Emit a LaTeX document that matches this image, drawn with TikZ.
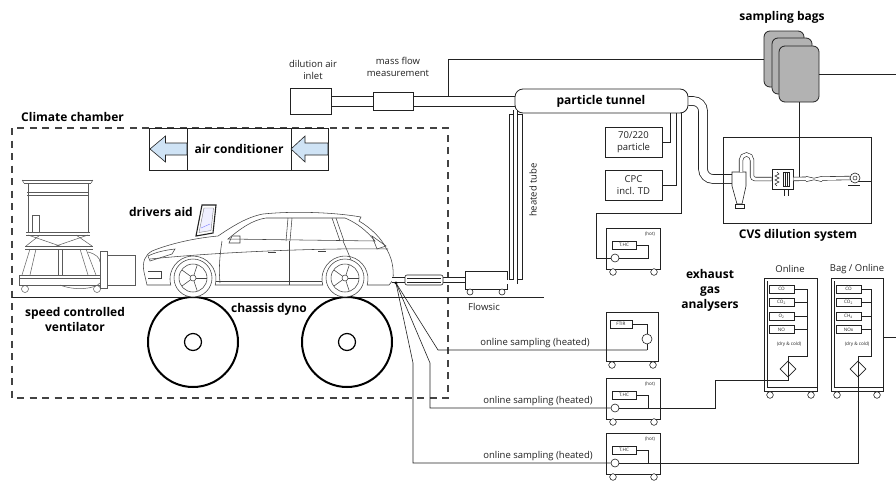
\documentclass[tikz,border=0pt]{standalone}
\usepackage{fontspec}
\setmainfont{Open Sans}
\usetikzlibrary{shapes.geometric,calc}

\definecolor{ink}{HTML}{222222}
\definecolor{sketch}{HTML}{5A5A5A}
\definecolor{airblue}{HTML}{CFE3F5}
\definecolor{baggray}{HTML}{B2B2B2}

\tikzset{
  head/.style={font=\fontsize{12}{15}\selectfont\bfseries, text=black, inner sep=0, align=center},
  note/.style={font=\fontsize{9.5}{11.5}\selectfont, text=ink, inner sep=0, align=center},
  micro/.style={font=\fontsize{4.6}{5}\selectfont, text=ink, inner sep=0},
  unit/.style={draw=ink, line width=0.8pt, rectangle, inner sep=0},
  gasbox/.style={draw=ink, line width=0.5pt, rectangle, inner sep=0, minimum width=25, minimum height=8, micro},
  wire/.style={draw=ink, line width=0.6pt},
  pipe/.style={draw=ink, line width=0.8pt},
  tube/.style={draw=ink, line width=0.8pt, double=white, double distance=#1},
  tube/.default=4pt,
  chamber/.style={draw=ink!85, line width=1.2pt, dash pattern=on 7pt off 5.5pt},
  roller/.style={circle, draw=black, line width=2pt, inner sep=0, minimum size=90},
  hub/.style={circle, draw=black, fill=white, line width=1.2pt, inner sep=0, minimum size=17},
  drawing/.style={draw=sketch, line width=0.5pt},
  carline/.style={draw=ink!85, line width=0.55pt},
  caster/.style={draw=ink, line width=0.6pt, fill=white},
  pumpsym/.style={circle, draw=ink, line width=0.6pt, inner sep=0, fill=white},
  filtersym/.style={diamond, draw=ink, line width=0.7pt, inner sep=0, minimum size=16, fill=white},
  % cabinet with a heated total hydrocarbon analyser
  thccab/.pic={
    \node[unit, minimum width=54, minimum height=41, anchor=north west] (-cab) at (0,0) {};
    \draw[caster] (7,44) circle[radius=3.3];
    \draw[caster] (48,44) circle[radius=3.3];
    \node[micro] at (44,6) {(hot)};
    \node[gasbox, minimum width=24] (-box) at (18,17) {T.HC};
    \node[pumpsym, minimum size=8] (-pump) at (9,30) {};
    \draw[wire] (-box.east) -| (42,30) -- (-pump.east);
  },
  % cabinet with the FTIR spectrometer
  ftircab/.pic={
    \node[unit, minimum width=52, minimum height=49, anchor=north west] (-cab) at (0,0) {};
    \draw[caster] (6,53) circle[radius=3.3];
    \draw[caster] (47,53) circle[radius=3.3];
    \node[gasbox, minimum width=22] (-box) at (15,12) {FTIR};
    \node[pumpsym, minimum size=10] (-pump) at (41,27) {};
    \coordinate (-in) at (41,38);
    \draw[wire] (-box.east) -| (-pump.north);
    \draw[wire] (-pump.south) -- (-in);
  }
}

\begin{document}
\begin{tikzpicture}[x=1pt, y=-1pt]
\useasboundingbox[fill=white] (0,0) rectangle (896,482);

% ---------------- climate chamber ----------------
\draw[chamber] (12,128) rectangle (448,398);
\node[head, anchor=west] (chamberlbl) at (21,117) {Climate chamber};

% air conditioner with in/out arrows
\node[unit, minimum width=179, minimum height=42, line width=0.7pt] (ac) at (238.5,149) {};
\draw[wire] (187,128) -- (187,170);
\draw[wire] (291,128) -- (291,170);
\node[head] at (239,149) {air conditioner};
\draw[wire, fill=airblue] (150,149) -- (165.5,136) -- (165.5,143) -- (187,143) -- (187,155) -- (165.5,155) -- (165.5,162) -- cycle;
\draw[wire, fill=airblue] (291,149) -- (305,136) -- (305,143) -- (328,143) -- (328,155) -- (305,155) -- (305,162) -- cycle;

% floor
\draw[draw=ink, line width=0.9pt] (12,297) -- (544,297);

% ---------------- ventilator ----------------
\begin{scope}[drawing]
  \draw (22,180) -- (93,180); \draw (24,183) -- (91,183);
  \draw (22,180) -- (24,183); \draw (93,180) -- (91,183);
  \draw (28,183) -- (28,233); \draw (88,183) -- (88,233);
  \draw (27,192) -- (89,192); \draw (27,195) -- (89,195);
  \draw (32,215) rectangle (39,232);
  \draw (26,232) -- (90,232); \draw (26,235) -- (90,235);
  \draw (28,235) -- (60,246); \draw (88,235) -- (56,246);
  \draw (40,235) -- (26,246); \draw (76,235) -- (92,246);
  \draw (25,246) -- (93,246); \draw (25,249) -- (93,249);
  \draw (30,249) -- (22,275); \draw (36,249) -- (30,275);
  \draw (86,249) -- (96,275); \draw (80,249) -- (88,275);
  \draw (58,249) -- (58,275); \draw (62,249) -- (62,275);
  \draw (19,275) rectangle (106,285); \draw (19,278) -- (106,278);
  \draw (88,252) .. controls (96,254) and (100,258) .. (100,262);
  \draw (60,285) .. controls (75,291) and (95,289) .. (100,283);
  \draw[fill=white] (100,251) rectangle (107,288);
  \draw[fill=white] (107,255) rectangle (135,285);
  \draw (25,289) circle[radius=3.5]; \draw (97,289) circle[radius=3.5];
\end{scope}
\node[head] (ventlbl) at (75,319) {speed controlled\\ventilator};

% ---------------- chassis dyno ----------------
\node[roller] (rollF) at (193,342) {};
\node[hub] (hubF) at (rollF.center) {};
\node[roller] (rollR) at (347,342) {};
\node[hub] (hubR) at (rollR.center) {};
\node[head] (dynolbl) at (269,309) {chassis dyno};

% ---------------- vehicle ----------------
\draw[carline, fill=white] (147,285) -- (144,272) .. controls (142,262) and (145,255) .. (152,251)
  .. controls (172,243) and (196,238) .. (218,236) .. controls (233,226) and (247,217) .. (263,214)
  .. controls (292,211) and (332,212) .. (361,217) -- (359,221)
  .. controls (371,228) and (381,238) .. (386,248) .. controls (392,258) and (394,268) .. (393,280)
  -- (389,285) -- (367.2,285) arc[start angle=15, end angle=-195, radius=23]
  -- (215.2,285) arc[start angle=15, end angle=-195, radius=23] -- cycle;
\draw[carline] (228,239) .. controls (240,229) and (252,220) .. (266,218) -- (345,218)
  .. controls (357,223) and (367,231) .. (375,241) -- cycle;
\draw[carline] (288,218) -- (286,241); \draw[carline] (292,218) -- (290,241);
\draw[carline] (332,218) -- (340,241); \draw[carline] (336,218) -- (344,241);
\draw[carline] (222,241) .. controls (219,260) and (219,272) .. (220,283);
\draw[carline] (289,241) -- (289,285);
\draw[carline] (343,241) .. controls (348,252) and (350,258) .. (352,262);
\draw[carline] (150,259) .. controls (230,251) and (330,248) .. (388,249);
\draw[carline] (216,281) -- (322,281);
\draw[carline] (229,243) -- (232,236) -- (240,236) -- (240,243) -- cycle;
\draw[carline] (268,252) -- (276,252); \draw[carline] (318,251) -- (326,251);
\draw[carline] (148,256) .. controls (156,252) and (166,250) .. (175,249) -- (172,254) -- (150,261) -- cycle;
\draw[carline] (372,236) -- (386,246) -- (377,249) -- cycle;
\draw[carline] (148,271) -- (161,271) -- (161,278) -- (148,278);
\foreach \cx in {193,345} {
  \draw[carline, fill=white] (\cx,278) circle[radius=19];
  \draw[carline] (\cx,278) circle[radius=14];
  \draw[carline] (\cx,278) circle[radius=3];
  \foreach \a in {0,72,...,288}
    \draw[carline] ($(\cx,278)+(\a:3)$) -- ($(\cx,278)+(\a:13.5)$);
}

% drivers aid monitor
\draw[draw=ink, line width=1.1pt, fill=white] (202,205) -- (216,205) -- (213,233) -- (196,236) -- cycle;
\draw[draw=ink!60, line width=0.4pt, fill=blue!6] (204,208) -- (213.5,208) -- (211,230.5) -- (199,232.5) -- cycle;
\draw[draw=blue!50, line width=0.4pt] (201,228) -- (210,224);
\node[head, anchor=east] (aidlbl) at (193,212) {drivers aid};

% ---------------- exhaust line and Flowsic ----------------
\node[unit, minimum width=42, minimum height=18, fill=white] (flowsic) at (486,280) {};
\draw[caster] (470,292) circle[radius=3];
\draw[caster] (502,292) circle[radius=3];
\node[note] (flowsiclbl) at (484,307) {Flowsic};
\draw[tube=4pt, line width=0.6pt] (392,280) -- (flowsic.west);
\node[unit, rounded corners=2, minimum width=38, minimum height=10, fill=white, line width=0.6pt] (muffler) at (424,280) {};
\draw[wire, line width=0.4pt] (407,278) -- (441,278);
\draw[wire, line width=0.4pt] (407,282) -- (441,282);
\coordinate (tap) at (396,283);
\fill[black] (tap) circle[radius=1.7];

% ---------------- dilution air and particle tunnel ----------------
\node[unit, minimum width=41, minimum height=26] (inlet) at (310.5,101) {};
\node[note] (inletlbl) at (313,70) {dilution air\\inlet};
\node[unit, minimum width=40, minimum height=18] (mfm) at (393,101) {};
\node[note] (mfmlbl) at (398,67) {mass flow\\measurement};
\node[unit, rounded corners=8, minimum width=173, minimum height=24] (tunnel) at (601.5,101) {};
\node[head] at (601,101) {particle tunnel};
\draw[pipe] ($(inlet.east)+(0,-5)$) -- ($(mfm.west)+(0,-5)$);
\draw[pipe] ($(inlet.east)+(0,5)$) -- ($(mfm.west)+(0,5)$);
\draw[pipe] ($(mfm.east)+(0,-5)$) -- ($(tunnel.west)+(0,-5)$);
\draw[pipe] ($(mfm.east)+(0,5)$) -- ($(tunnel.west)+(0,5)$);

% heated transfer tube from the Flowsic up to the tunnel
\draw[wire, line width=0.5pt] (509,114) rectangle (522,279);
\draw[tube=3.2pt, line width=0.6pt] (515.5,110) -- (515.5,282) -- (flowsic.east |- 0,282);
\node[note, rotate=90] (tubelbl) at (533,190) {heated tube};

% ---------------- sampling bags ----------------
\node[draw=ink, line width=0.8pt, fill=baggray, rounded corners=6, minimum width=40, minimum height=56] (bag1) at (784,59) {};
\node[draw=ink, line width=0.8pt, fill=baggray, rounded corners=6, minimum width=40, minimum height=56] (bag2) at (792,66) {};
\node[draw=ink, line width=0.8pt, fill=baggray, rounded corners=6, minimum width=40, minimum height=56] (bag3) at (799,74) {};
\node[head] (bagslbl) at (782,17) {sampling bags};
\coordinate (j1) at (448,96);
\draw[wire] (j1) |- (bag1.west);
\coordinate (outB) at (896,74);
\draw[wire] (bag3.east) -- (outB);

% ---------------- CVS dilution system ----------------
\node[minimum width=147, minimum height=85, inner sep=0] (cvs) at (797.5,180.5) {};
\draw[tube=8pt, rounded corners=10] (tunnel.east) -- (703,101) -- (703,179) -- (733,179);
\draw[wire, fill=white] (732,172) -- (746,172) -- (746,186) -- (742,204) -- (737,204) -- (732,186) -- cycle;
\draw[wire, fill=white] (735,204) rectangle (744,208);
\node[unit, minimum width=21, minimum height=20, fill=white, line width=0.6pt] (hx) at (782.5,179) {};
\draw[tube=3pt, line width=0.6pt] (741,172) -- (741,160) arc[start angle=180, end angle=360, radius=5.5]
  -- (752,176) arc[start angle=180, end angle=90, radius=3] -- (hx.west);
\draw[wire, line width=0.5pt] (777,172) -- (779,174) -- (775,176) -- (779,178) -- (775,180) -- (779,182) -- (775,184) -- (777,186);
\draw[wire, line width=0.5pt] (783,172) rectangle (789,186);
\draw[wire, line width=0.4pt] (785,172) -- (785,186); \draw[wire, line width=0.4pt] (787,172) -- (787,186);
\draw[wire, line width=0.5pt] (784,189) -- (784,196); \draw[wire, line width=0.5pt] (788,189) -- (788,196);
\node[pumpsym, minimum size=10] (blower) at (855,178) {};
\draw[tube=3pt, line width=0.6pt] (hx.east) -- (blower.west);
\fill[white] (806,175) rectangle (822,183);
\draw[wire, line width=0.5pt] (806,176.3) -- (814,178.2) -- (822,176.3);
\draw[wire, line width=0.5pt] (806,181.7) -- (814,179.8) -- (822,181.7);
\draw[wire, line width=0.5pt] (855,178) circle[radius=2];
\draw[wire] (848,185) -- (860,185);
\draw[tube=3pt, line width=0.6pt] (859,183) -- (cvs.east |- 0,183);
\coordinate (cvsjoin) at (799,177);
\draw[wire] (bag3.south) -- (cvsjoin);
\draw[draw=ink, line width=0.9pt] (cvs.south west) rectangle (cvs.north east);
\node[head] (cvslbl) at (798,235) {CVS dilution system};

% ---------------- particle instruments ----------------
\node[unit, line width=0.6pt, minimum width=57, minimum height=30, note] (p70) at (633.5,142) {70/220\\particle};
\node[unit, line width=0.6pt, minimum width=57, minimum height=30, note] (cpc) at (633.5,185) {CPC\\incl. TD};
\draw[wire] (670,113) |- (p70.east);
\draw[wire] (676,113) |- (cpc.east);

% ---------------- gas sampling cabinets ----------------
\pic (thcA) at (606,228) {thccab};
\pic (ftir) at (606,312) {ftircab};
\pic (thcB) at (606,378) {thccab};
\pic (thcC) at (606,433) {thccab};
\draw[wire] (681,113) -- (681,213) -- (596,213) |- (thcA-pump.west);

\draw[wire] (tap) -- (438,350) -- (ftir-in);
\draw[wire] (tap) -- (430,363) |- (thcB-pump.west);
\draw[wire] (tap) -- (413,363) |- (thcC-pump.west);
\node[note] (s1) at (535,343) {online sampling (heated)};
\node[note] (s2) at (538,401) {online sampling (heated)};
\node[note] (s3) at (538,456) {online sampling (heated)};

% ---------------- exhaust gas analysers ----------------
\node[head] (analbl) at (710,290) {exhaust\\gas\\analysers};

% online bench
\node[unit, minimum width=53, minimum height=113, anchor=north west] (onl) at (764,278) {};
\draw[wire, line width=0.4pt] (767,281) -- (767,387) -- (817,387);
\draw[caster] (770,395) circle[radius=3.3];
\draw[caster] (811,395) circle[radius=3.3];
\node[note] (onllbl) at (790,269) {Online};
\node[gasbox] (onl-g1) at (781.5,289) {CO};
\node[gasbox] (onl-g2) at (781.5,302.5) {CO\textsubscript{2}};
\node[gasbox] (onl-g3) at (781.5,316) {O\textsubscript{2}};
\node[gasbox] (onl-g4) at (781.5,329.5) {NO};
\node[micro] at (789,344) {(dry \& cold)};
\node[filtersym] (onl-filter) at (788,369) {};
\draw[wire, line width=0.5pt] (onl-filter.north) -- (onl-filter.south);
\coordinate (onl-bus) at (807,289);
\draw[wire] (onl-g1.east) -- (onl-bus) -- (807,356) -| (onl-filter.north);
\foreach \g in {2,3,4} \draw[wire] (onl-g\g.east) -- (onl-g\g.east -| onl-bus);

% bag / online bench
\node[unit, minimum width=52, minimum height=113, anchor=north west] (bag) at (831,278) {};
\draw[wire, line width=0.4pt] (834,281) -- (834,387) -- (883,387);
\draw[caster] (837,395) circle[radius=3.3];
\draw[caster] (877,395) circle[radius=3.3];
\node[note] (baglbl) at (857,269) {Bag / Online};
\node[gasbox] (bag-g1) at (848.5,289) {CO};
\node[gasbox] (bag-g2) at (848.5,302.5) {CO\textsubscript{2}};
\node[gasbox] (bag-g3) at (848.5,316) {CH\textsubscript{4}};
\node[gasbox] (bag-g4) at (848.5,329.5) {NOx};
\node[micro] at (857,344) {(dry \& cold)};
\node[filtersym] (bag-filter) at (858,369) {};
\draw[wire, line width=0.5pt] (bag-filter.north) -- (bag-filter.south);
\coordinate (bag-bus) at (871,289);
\draw[wire] (bag-g1.east) -- (bag-bus) -- (871,356) -| (bag-filter.north);
\foreach \g in {2,3,4} \draw[wire] (bag-g\g.east) -- (bag-g\g.east -| bag-bus);
\coordinate (outR) at (896,337);
\draw[wire] (bag.east |- outR) -- (outR);

% heated lines on to the analyser benches
\draw[wire] (thcB-pump.east) -- (715,408) -- (715,380) -| (onl-filter.south);
\draw[wire] (thcC-pump.east) -| (bag-filter.south);

\end{tikzpicture}
\end{document}
